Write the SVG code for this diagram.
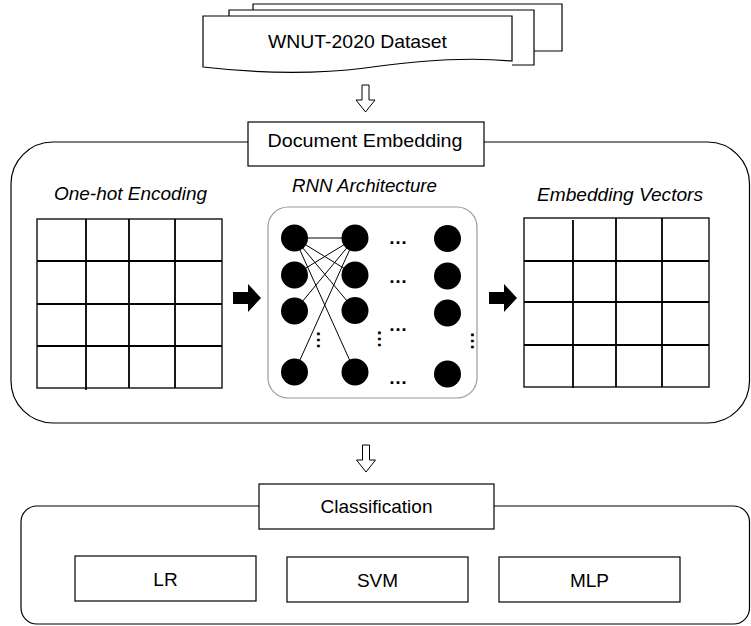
<svg xmlns="http://www.w3.org/2000/svg" width="751" height="626" viewBox="0 0 751 626">
  <style>
    text { font-family: "Liberation Sans", Arial, sans-serif; fill: #000; }
    .lbl { font-size: 19px; text-anchor: middle; }
    .it { font-size: 19px; font-style: italic; text-anchor: middle; }
    .dots { font-size: 19px; font-weight: bold; text-anchor: middle; }
    .box { fill: #fff; stroke: #000; stroke-width: 1.2; }
    .frame { fill: none; stroke: #000; stroke-width: 1.2; }
    .sheet { fill: #fff; stroke: #000; stroke-width: 1.2; stroke-linejoin: miter; }
    .grid { fill: none; stroke: #000; stroke-width: 1.8; }
    .gridout { fill: #fff; stroke: #111; stroke-width: 1.4; }
    .hollow { fill: #fff; stroke: #000; stroke-width: 1; stroke-linejoin: miter; }
    .block { fill: #000; }
    .neuron { fill: #000; }
    .syn { stroke: #000; stroke-width: 1; }
  </style>

  <!-- stacked document: input corpus -->
  <g id="dataset">
    <path class="sheet" d="M253,10 V4 H562 V51 H534"/>
    <path class="sheet" d="M229,16 V10 H534 V65 H512"/>
    <path class="sheet" d="M203,16 H512 V61 C470,57 420,60 365,68 C310,75 255,73 203,67 Z"/>
    <text class="lbl" x="357.5" y="48" textLength="179" lengthAdjust="spacingAndGlyphs">WNUT-2020 Dataset</text>
  </g>

  <!-- document embedding stage -->
  <g id="document-embedding">
    <rect class="frame" x="11" y="142" width="738.5" height="281" rx="42" ry="42"/>
    <rect class="box" x="248" y="122" width="236" height="44"/>
    <text class="lbl" x="365" y="147" textLength="195" lengthAdjust="spacingAndGlyphs">Document Embedding</text>
  </g>

  <!-- one-hot matrix -->
  <g id="one-hot-encoding">
    <text class="it" x="130.5" y="200" textLength="153" lengthAdjust="spacingAndGlyphs">One-hot Encoding</text>
    <rect class="gridout" x="37" y="219" width="185" height="169"/>
    <path class="grid" d="M86,219 V390 M129,219 V388 M175,219 V388 M37,261 H222 M37,304 H222 M37,346 H222"/>
  </g>

  <!-- recurrent network -->
  <g id="rnn-architecture">
    <text class="it" x="364.5" y="192" textLength="145" lengthAdjust="spacingAndGlyphs">RNN Architecture</text>
    <rect x="268" y="207" width="209" height="191" rx="20" ry="20" fill="#fff" stroke="#9a9a9a" stroke-width="1.2"/>
    <g id="rnn-links">
      <line class="syn" x1="294.5" y1="238" x2="355" y2="238"/>
      <line class="syn" x1="294.5" y1="238" x2="355" y2="275"/>
      <line class="syn" x1="294.5" y1="238" x2="355" y2="310.5"/>
      <line class="syn" x1="294.5" y1="238" x2="355" y2="372"/>
      <line class="syn" x1="355" y1="238" x2="294.5" y2="275"/>
      <line class="syn" x1="355" y1="238" x2="294.5" y2="311"/>
      <line class="syn" x1="355" y1="238" x2="294.5" y2="372"/>
    </g>
    <g id="rnn-units">
      <circle class="neuron" cx="294.5" cy="238" r="13.5"/>
      <circle class="neuron" cx="294.5" cy="275" r="13.5"/>
      <circle class="neuron" cx="294.5" cy="311" r="13.5"/>
      <circle class="neuron" cx="294.5" cy="372" r="13.5"/>
      <circle class="neuron" cx="355" cy="238" r="13.5"/>
      <circle class="neuron" cx="355" cy="275" r="13.5"/>
      <circle class="neuron" cx="355" cy="310.5" r="13.5"/>
      <circle class="neuron" cx="355" cy="372" r="13.5"/>
      <circle class="neuron" cx="447.5" cy="238.5" r="13.5"/>
      <circle class="neuron" cx="447.5" cy="276" r="13.5"/>
      <circle class="neuron" cx="447.5" cy="313" r="13.5"/>
      <circle class="neuron" cx="447.5" cy="374" r="13.5"/>
    </g>
    <g id="rnn-ellipses">
      <text class="dots" x="398" y="244">…</text>
      <text class="dots" x="398" y="283">…</text>
      <text class="dots" x="398" y="331">…</text>
      <text class="dots" x="398" y="384">…</text>
      <text class="dots" transform="translate(323.5 340) rotate(90)" x="0" y="6.5">…</text>
      <text class="dots" transform="translate(384 339) rotate(90)" x="0" y="6.5">…</text>
      <text class="dots" transform="translate(477 341) rotate(90)" x="0" y="6.5">…</text>
    </g>
  </g>

  <!-- embedding matrix -->
  <g id="embedding-vectors">
    <text class="it" x="620" y="201" textLength="166" lengthAdjust="spacingAndGlyphs">Embedding Vectors</text>
    <rect class="gridout" x="524" y="218" width="185" height="169"/>
    <path class="grid" d="M573,220 V388 M616,218 V387 M662,218 V387 M524,261 H709 M524,302 H709 M524,345 H709"/>
  </g>

  <!-- classification stage -->
  <g id="classification">
    <rect class="frame" x="21" y="506" width="728.5" height="118" rx="16" ry="16"/>
    <rect class="box" x="259" y="484" width="235" height="45"/>
    <text class="lbl" x="376.5" y="513" textLength="112" lengthAdjust="spacingAndGlyphs">Classification</text>
  </g>
  <g id="lr">
    <rect class="box" x="75" y="556" width="181" height="45"/>
    <text class="lbl" x="165.5" y="586">LR</text>
  </g>
  <g id="svm">
    <rect class="box" x="287" y="557" width="181" height="45"/>
    <text class="lbl" x="377.5" y="587">SVM</text>
  </g>
  <g id="mlp">
    <rect class="box" x="499" y="557" width="181" height="45"/>
    <text class="lbl" x="589.5" y="587">MLP</text>
  </g>

  <!-- flow arrows -->
  <g id="connectors">
    <polygon class="hollow" points="362,85 369,85 369,100 375,100 365.5,112 356,100 362,100"/>
    <polygon class="hollow" points="362.5,445 369.5,445 369.5,460 375.5,460 366,472 356.5,460 362.5,460"/>
    <polygon class="block" points="233,292 248,292 248,284 261,298 248,312 248,304 233,304"/>
    <polygon class="block" points="489,292 504,292 504,284 517,298 504,312 504,304 489,304"/>
  </g>
</svg>
